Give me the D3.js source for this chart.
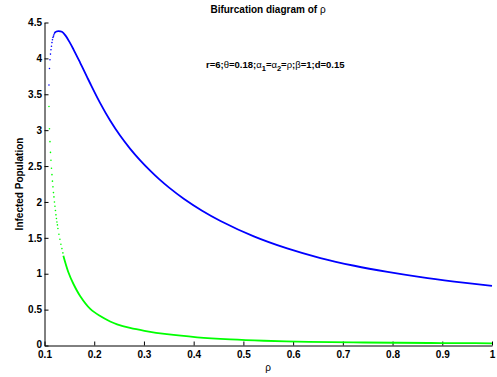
<!DOCTYPE html>
<html>
<head>
<meta charset="utf-8">
<script src="https://cdn.jsdelivr.net/npm/d3@7"></script>
<style>
  body { margin: 0; background: #fff; }
  svg { display: block; }
  text { font-family: "Liberation Sans", Arial, Helvetica, sans-serif; fill: #000; }
</style>
</head>
<body>
<svg id="chart" width="497" height="377"></svg>
<script>
// Axis ticks
const xTicks = [0.1, 0.2, 0.3, 0.4, 0.5, 0.6, 0.7, 0.8, 0.9, 1];
const yTicks = [0, 0.5, 1, 1.5, 2, 2.5, 3, 3.5, 4, 4.5];

// Upper (blue) branch: sparse points right after the fold
const upperHeadRho = [0.109, 0.110, 0.111, 0.112, 0.113, 0.114, 0.115, 0.116, 0.117, 0.118, 0.119, 0.120, 0.121];
const upperHeadI   = [3.63, 3.86, 3.98, 4.06, 4.12, 4.17, 4.22, 4.26, 4.29, 4.31, 4.33, 4.35, 4.36];

// Upper (blue) branch: dense part
const upperRho = [0.121, 0.124, 0.128, 0.135, 0.142, 0.151, 0.158, 0.172, 0.185, 0.192, 0.212, 0.232, 0.252, 0.272,
                  0.292, 0.312, 0.33, 0.35, 0.38, 0.417, 0.454, 0.521, 0.588, 0.655, 0.723, 0.79, 0.857, 0.924, 1.0];
const upperI   = [4.36, 4.375, 4.38, 4.37, 4.32, 4.22, 4.13, 3.935, 3.75, 3.65, 3.377, 3.134, 2.925, 2.743,
                  2.582, 2.439, 2.321, 2.203, 2.045, 1.878, 1.735, 1.52, 1.352, 1.218, 1.111, 1.025, 0.952, 0.891, 0.83];

// Lower (green) branch: sparse points right after the fold
const lowerHeadRho = [0.109, 0.110, 0.111, 0.112, 0.113, 0.114, 0.115, 0.116, 0.117, 0.118,
                      0.119, 0.120, 0.121, 0.122, 0.123, 0.124, 0.125, 0.126, 0.127,
                      0.129, 0.131, 0.133, 0.135, 0.137];
const lowerHeadI   = [3.33, 3.02, 2.84, 2.69, 2.58, 2.47, 2.38, 2.29, 2.21, 2.13,
                      2.07, 2.00, 1.94, 1.88, 1.82, 1.77, 1.72, 1.68, 1.63,
                      1.55, 1.48, 1.41, 1.35, 1.29];

// Lower (green) branch: dense part
const lowerRho = [0.1379, 0.148, 0.158, 0.1716, 0.192, 0.212, 0.232, 0.246, 0.272, 0.301, 0.346,
                  0.407, 0.474, 0.541, 0.6085, 0.676, 0.743, 0.81, 0.877, 0.944, 1.0];
const lowerI   = [1.25, 1.02, 0.86, 0.69, 0.51, 0.41, 0.335, 0.295, 0.245, 0.205, 0.157,
                  0.114, 0.085, 0.066, 0.054, 0.047, 0.042, 0.038, 0.035, 0.033, 0.031];

const svg = d3.select("#chart");

const x = d3.scaleLinear().domain([0.1, 1]).range([44.5, 492]);
const y = d3.scaleLinear().domain([0, 4.5]).range([345.5, 22.5]);

const fmt = d3.format("~g");

// Axes (inward ticks, no box)
const xAxis = d3.axisBottom(x).tickValues(xTicks).tickSizeInner(-4).tickSizeOuter(0)
  .tickPadding(5).tickFormat(fmt);
const yAxis = d3.axisLeft(y).tickValues(yTicks).tickSizeInner(-4).tickSizeOuter(0)
  .tickPadding(2.5).tickFormat(fmt);

const gx = svg.append("g").attr("transform", `translate(0,${y(0)})`).call(xAxis);
const gy = svg.append("g").attr("transform", `translate(${x(0.1)},0)`).call(yAxis);

[gx, gy].forEach(g => {
  g.select(".domain").attr("stroke", "#000").attr("stroke-width", 1);
  g.selectAll(".tick line").attr("stroke", "#000").attr("stroke-width", 1);
  g.selectAll(".tick text")
    .attr("fill", "#000")
    .style("font-family", '"Liberation Sans", Arial, Helvetica, sans-serif')
    .style("font-size", "10px")
    .style("font-weight", "bold");
});
// lift the y "0" a touch so it sits clear of the x "0.1"
gy.selectAll(".tick text").filter(d => d === 0).attr("dy", "0.2em");

// Curves
const plot = svg.append("g");
const line = d3.line().x(d => x(d[0])).y(d => y(d[1])).curve(d3.curveCatmullRom.alpha(0.5));

function branch(rho, vals, headRho, headVals, color) {
  const pts = rho.map((r, i) => [r, vals[i]]);
  plot.append("path").datum(pts)
    .attr("d", line)
    .attr("fill", "none")
    .attr("stroke", color)
    .attr("stroke-width", 1.8);
  const head = headRho.map((r, i) => [r, headVals[i]]);
  plot.selectAll(null).data(head).enter().append("circle")
    .attr("cx", d => x(d[0]))
    .attr("cy", d => y(d[1]))
    .attr("r", 0.8)
    .attr("fill", color);
}

branch(upperRho, upperI, upperHeadRho, upperHeadI, "#0000ff");
branch(lowerRho, lowerI, lowerHeadRho, lowerHeadI, "#00ff00");

// Text with greek symbols in regular weight and optional subscripts
function richText(sel, parts) {
  parts.forEach(p => {
    const t = sel.append("tspan").text(p.t);
    if (p.g) t.attr("font-weight", "normal");
    if (p.sub) t.attr("dy", 3).attr("font-size", "7.5px");
    if (p.up) t.attr("dy", -3);
  });
}

// Title
const title = svg.append("text")
  .attr("x", 268).attr("y", 13)
  .attr("text-anchor", "middle")
  .attr("font-size", "10px").attr("font-weight", "bold");
richText(title, [{ t: "Bifurcation diagram of " }, { t: "ρ", g: 1 }]);

// Parameter annotation
const note = svg.append("text")
  .attr("x", 206).attr("y", 68)
  .attr("font-size", "9.5px").attr("font-weight", "bold");
richText(note, [
  { t: "r=6;" }, { t: "θ", g: 1 }, { t: "=0.18;" },
  { t: "α", g: 1 }, { t: "1", sub: 1 }, { t: "=", up: 1 },
  { t: "α", g: 1 }, { t: "2", sub: 1 }, { t: "=", up: 1 },
  { t: "ρ", g: 1 }, { t: ";" }, { t: "β", g: 1 }, { t: "=1;d=0.15" }
]);

// Axis labels
svg.append("text")
  .attr("x", 268).attr("y", 371)
  .attr("text-anchor", "middle")
  .attr("font-size", "10px")
  .text("ρ");

svg.append("text")
  .attr("transform", "translate(19,184) rotate(-90)")
  .attr("text-anchor", "middle")
  .attr("dy", "0.35em")
  .attr("font-size", "10px").attr("font-weight", "bold")
  .text("Infected Population");
</script>
</body>
</html>
